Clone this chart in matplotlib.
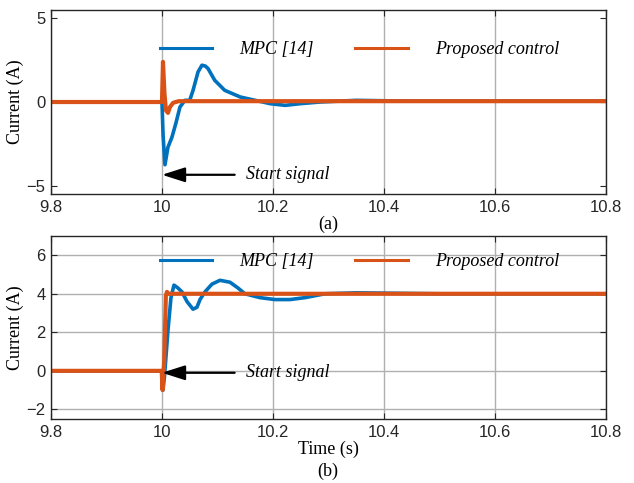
import matplotlib.pyplot as plt

# (a) current at start-up
t_mpc_a = [9.8, 10.0, 10.002, 10.0054, 10.0108, 10.018, 10.0252, 10.0324, 10.0414, 10.050,
           10.056, 10.065, 10.072, 10.078, 10.083, 10.095, 10.113, 10.141, 10.168, 10.195,
           10.222, 10.249, 10.285, 10.35, 10.45, 10.6, 10.8]
i_mpc_a = [0, 0, -2.0, -3.75, -2.7, -2.1, -1.25, -0.3, 0.1, 0.1,
           0.7, 1.8, 2.2, 2.15, 2.0, 1.3, 0.7, 0.3, 0.1, -0.1,
           -0.2, -0.1, 0.0, 0.1, 0.05, 0.05, 0.05]

t_prop_a = [9.8, 10.0, 10.0018, 10.0045, 10.0072, 10.0108, 10.0144, 10.02, 10.03, 10.8]
i_prop_a = [0, 0, 2.4, 0.5, -0.5, -0.65, -0.3, -0.05, 0.05, 0.05]

# (b) current step to 4 A
t_mpc_b = [9.8, 9.9995, 10.0018, 10.0045, 10.0108, 10.0162, 10.0216, 10.0288, 10.036, 10.045,
           10.0559, 10.063, 10.0685, 10.0775, 10.090, 10.1045, 10.1225, 10.137, 10.1495, 10.1766,
           10.2036, 10.2306, 10.2577, 10.2937, 10.35, 10.5, 10.8]
i_mpc_b = [0, 0, -1.0, -0.3, 2.1, 3.8, 4.45, 4.3, 4.1, 3.6,
           3.2, 3.3, 3.7, 4.1, 4.5, 4.7, 4.6, 4.3, 4.0, 3.8,
           3.7, 3.7, 3.8, 4.0, 4.05, 4.0, 4.0]

t_prop_b = [9.8, 9.9995, 10.001, 10.004, 10.007, 10.009, 10.012, 10.8]
i_prop_b = [0, 0, -1.0, 0.5, 3.9, 4.1, 4.0, 4.0]

xticks = [9.8, 10, 10.2, 10.4, 10.6, 10.8]
xticklabels = ["9.8", "10", "10.2", "10.4", "10.6", "10.8"]

blue = "#0072BD"
orange = "#D95319"
serif = "Liberation Serif"
sans = "Liberation Sans"

fig = plt.figure(figsize=(6.34, 4.83), dpi=100)
ax1 = fig.add_axes([0.0804, 0.5983, 0.8754, 0.381])
ax2 = fig.add_axes([0.0804, 0.1325, 0.8754, 0.3789])


def style(ax, ylim, yticks, ygrid):
    ax.set_xlim(9.8, 10.8)
    ax.set_ylim(*ylim)
    ax.set_xticks(xticks)
    ax.set_xticklabels(xticklabels)
    ax.set_yticks(yticks)
    ax.tick_params(direction="in", top=True, right=True, length=4, width=0.8,
                   labelsize=12, colors="#262626", pad=4)
    for lab in ax.get_xticklabels() + ax.get_yticklabels():
        lab.set_fontfamily(sans)
    ax.grid(True, axis="x", color="#b0b0b0", lw=1)
    if ygrid:
        ax.grid(True, axis="y", color="#b0b0b0", lw=1)
    ax.set_axisbelow(True)
    for s in ax.spines.values():
        s.set_color("#262626")
        s.set_linewidth(1.0)
    ax.set_ylabel("Current (A)", family=serif, fontsize=13, labelpad=2)


style(ax1, (-5.5, 5.5), [-5, 0, 5], False)
style(ax2, (-2.5, 7), [-2, 0, 2, 4, 6], True)

for ax, tm, im, tp, ip in [(ax1, t_mpc_a, i_mpc_a, t_prop_a, i_prop_a),
                           (ax2, t_mpc_b, i_mpc_b, t_prop_b, i_prop_b)]:
    ax.plot(tm, im, color=blue, lw=2.6, label="MPC [14]")
    ax.plot(tp, ip, color=orange, lw=3.0, label="Proposed control")

legend_y = [0.783, 0.858]
for ax, ly in zip([ax1, ax2], legend_y):
    leg = ax.legend(loc="center left", bbox_to_anchor=(0.196, ly), ncol=2, frameon=False,
                    prop={"family": serif, "style": "italic", "size": 13},
                    handlelength=2.9, handletextpad=1.5, columnspacing=2.3,
                    borderpad=0, borderaxespad=0)
    for h in leg.get_lines():
        h.set_linewidth(2.2)

arrow = dict(arrowstyle="-|>,head_length=1.0,head_width=0.32", color="black",
             lw=1.6, mutation_scale=14, shrinkA=6, shrinkB=0, relpos=(0, 0.5))
ax1.annotate("Start signal", xy=(10.0, -4.35), xytext=(10.151, -4.35),
             ha="left", va="center", family=serif, style="italic", fontsize=13,
             arrowprops=arrow)
ax2.annotate("Start signal", xy=(10.0, -0.1), xytext=(10.151, -0.1),
             ha="left", va="center", family=serif, style="italic", fontsize=13,
             arrowprops=arrow)

ax1.set_xlabel("(a)", family=serif, fontsize=13, labelpad=1)
ax2.set_xlabel("Time (s)", family=serif, fontsize=13, labelpad=1)
fig.text(0.517, 1 - 471 / 483, "(b)", family=serif, fontsize=13, ha="center", va="center")

fig.savefig("out.png", dpi=100)
